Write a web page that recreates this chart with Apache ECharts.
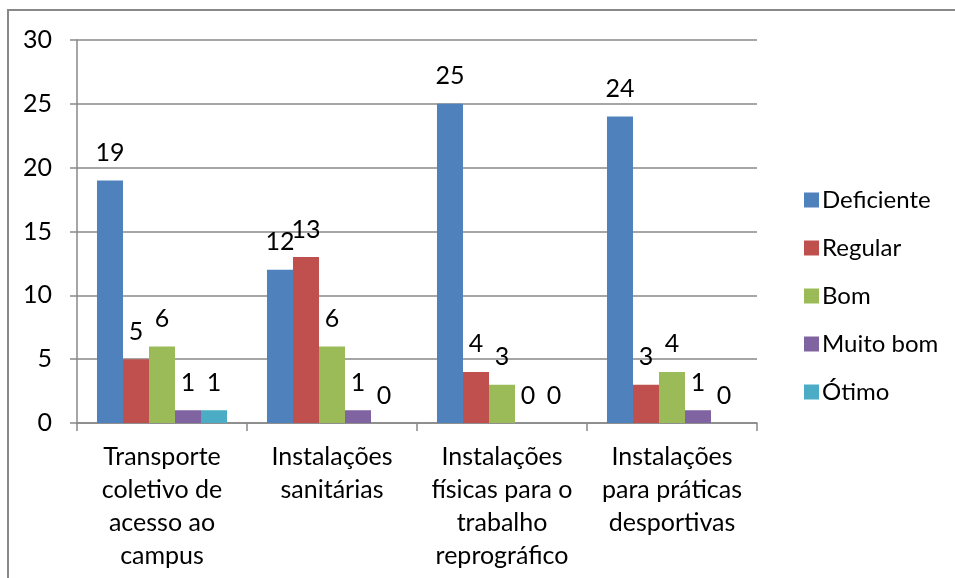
<!DOCTYPE html>
<html>
<head>
<meta charset="utf-8">
<script src="https://cdn.jsdelivr.net/npm/echarts@6/dist/echarts.min.js"></script>
<style>
  html, body { margin: 0; padding: 0; background: #fff; }
  #chart { width: 955px; height: 578px; }
</style>
</head>
<body>
<div id="chart"></div>
<script>
// categorias e valores
const categorias = [
  'Transporte\ncoletivo de\nacesso ao\ncampus',
  'Instalações\nsanitárias',
  'Instalações\nfísicas para o\ntrabalho\nreprográfico',
  'Instalações\npara práticas\ndesportivas'
]
const deficiente = [19, 12, 25, 24]
const regular = [5, 13, 4, 3]
const bom = [6, 6, 3, 4]
const muitoBom = [1, 1, 0, 1]
const otimo = [1, 0, 0, 0]

const nomes = ['Deficiente', 'Regular', 'Bom', 'Muito bom', 'Ótimo']
const valores = [deficiente, regular, bom, muitoBom, otimo]
const cores = ['#4F81BD', '#C0504D', '#9BBB59', '#8064A2', '#4BACC6']

const fonte = 'Lato, "Liberation Sans", sans-serif'

const chart = echarts.init(document.getElementById('chart'), null, { renderer: 'canvas' })

const option = {
  animation: false,
  textStyle: { fontFamily: fonte, color: '#000' },
  graphic: [
    {
      type: 'rect',
      shape: { x: 8, y: 10, width: 1000, height: 700 },
      style: { fill: 'none', stroke: '#888', lineWidth: 2 },
      silent: true
    }
  ],
  grid: { left: 77, right: 198, top: 40, bottom: 155 },
  legend: {
    orient: 'vertical',
    left: 799,
    top: 183,
    itemWidth: 15,
    itemHeight: 15,
    itemGap: 24,
    icon: 'rect',
    textStyle: { fontFamily: fonte, fontSize: 24, color: '#000', padding: [0, 0, 0, -2] },
    data: nomes
  },
  xAxis: {
    type: 'category',
    data: categorias,
    axisLine: { lineStyle: { color: '#888', width: 1.5 } },
    axisTick: { show: true, length: 8, lineStyle: { color: '#888', width: 1.5 } },
    axisLabel: {
      interval: 0,
      margin: 17,
      fontFamily: fonte,
      fontSize: 25,
      lineHeight: 33,
      color: '#000'
    }
  },
  yAxis: {
    type: 'value',
    min: 0,
    max: 30,
    interval: 5,
    axisLine: { show: true, lineStyle: { color: '#888', width: 1.5 } },
    axisTick: { show: true, length: 7, lineStyle: { color: '#888', width: 1.5 } },
    splitLine: { lineStyle: { color: '#888', width: 1.5 } },
    axisLabel: { margin: 25, fontFamily: fonte, fontSize: 25, color: '#000' }
  },
  series: nomes.map((nome, i) => ({
    name: nome,
    type: 'bar',
    data: valores[i],
    barGap: '0%',
    barCategoryGap: '23.5%',
    itemStyle: { color: cores[i] },
    label: {
      show: true,
      position: 'top',
      distance: 15,
      fontFamily: fonte,
      fontSize: 25,
      color: '#000'
    }
  }))
}

chart.setOption(option)
</script>
</body>
</html>
